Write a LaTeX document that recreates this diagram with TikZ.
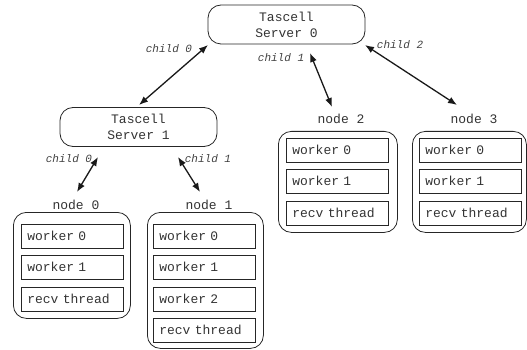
\documentclass[tikz,border=0pt]{standalone}
\usepackage{fontspec}
\setmonofont{Liberation Mono}
\usetikzlibrary{arrows.meta}
\begin{document}
\begin{tikzpicture}[x=1pt,y=-1pt,
  txt/.style={text=black!80, font=\ttfamily\fontsize{13}{16}\selectfont},
  server/.style={txt, draw=black!85, line width=0.8pt, rounded corners=13pt, minimum width=157pt, minimum height=39pt, align=center, inner sep=0pt},
  machine/.style={draw=black!85, line width=0.8pt, rounded corners=13pt, anchor=north west, inner sep=0pt},
  thread/.style={txt, draw=black!85, line width=0.6pt, anchor=north west, minimum height=24pt, text width=90pt, inner xsep=6pt, inner ysep=0pt, align=left},
  clabel/.style={text=black!75, font=\ttfamily\itshape\fontsize{11}{13}\selectfont, inner sep=0pt},
  link/.style={line width=1.3pt, black!90, {Latex[length=9pt,width=7pt]}-{Latex[length=9pt,width=7pt]}}
]
\useasboundingbox (0,0) rectangle (527,350);

% servers
\node[server] (s0) at (286.5,24.5) {Tascell\\Server 0};
\node[server] (s1) at (138.5,127) {Tascell\\Server 1};

% machines
\node[machine, minimum width=117pt, minimum height=106pt] (n0) at (13,212) {};
\node[machine, minimum width=116pt, minimum height=136pt] (n1) at (147,212) {};
\node[machine, minimum width=119pt, minimum height=101pt] (n2) at (278,131) {};
\node[machine, minimum width=114pt, minimum height=101pt] (n3) at (412,131) {};

% machine labels
\node[txt] (l0) at (76,205) {node 0};
\node[txt] (l1) at (209,205) {node 1};
\node[txt] (l2) at (341,119) {node 2};
\node[txt] (l3) at (474,119) {node 3};

% threads node 0
\node[thread] (n0w0) at (21,224) {worker 0};
\node[thread] (n0w1) at (21,255) {worker 1};
\node[thread] (n0r)  at (21,287) {recv thread};
% threads node 1
\node[thread] (n1w0) at (153,224) {worker 0};
\node[thread] (n1w1) at (153,255) {worker 1};
\node[thread] (n1w2) at (153,287) {worker 2};
\node[thread] (n1r)  at (153,318) {recv thread};
% threads node 2
\node[thread] (n2w0) at (286,138) {worker 0};
\node[thread] (n2w1) at (286,169) {worker 1};
\node[thread] (n2r)  at (286,201) {recv thread};
% threads node 3
\node[thread] (n3w0) at (419,138) {worker 0};
\node[thread] (n3w1) at (419,169) {worker 1};
\node[thread] (n3r)  at (419,201) {recv thread};

% connector end points
\coordinate (a0) at (208,45);  \coordinate (b0) at (139,105);
\coordinate (a1) at (310,53);  \coordinate (b1) at (332,107);
\coordinate (a2) at (365,45);  \coordinate (b2) at (457,105);
\coordinate (a3) at (98,157);  \coordinate (b3) at (77,192);
\coordinate (a4) at (178,157); \coordinate (b4) at (200,192);

\draw[link] (a0) -- (b0);
\draw[link] (a1) -- (b1);
\draw[link] (a2) -- (b2);
\draw[link] (a3) -- (b3);
\draw[link] (a4) -- (b4);

% child labels
\node[clabel] (c0) at (169,49) {child 0};
\node[clabel] (c1) at (281,58) {child 1};
\node[clabel] (c2) at (400,45) {child 2};
\node[clabel] (c3) at (69,159) {child 0};
\node[clabel] (c4) at (208,159) {child 1};
\end{tikzpicture}
\end{document}
